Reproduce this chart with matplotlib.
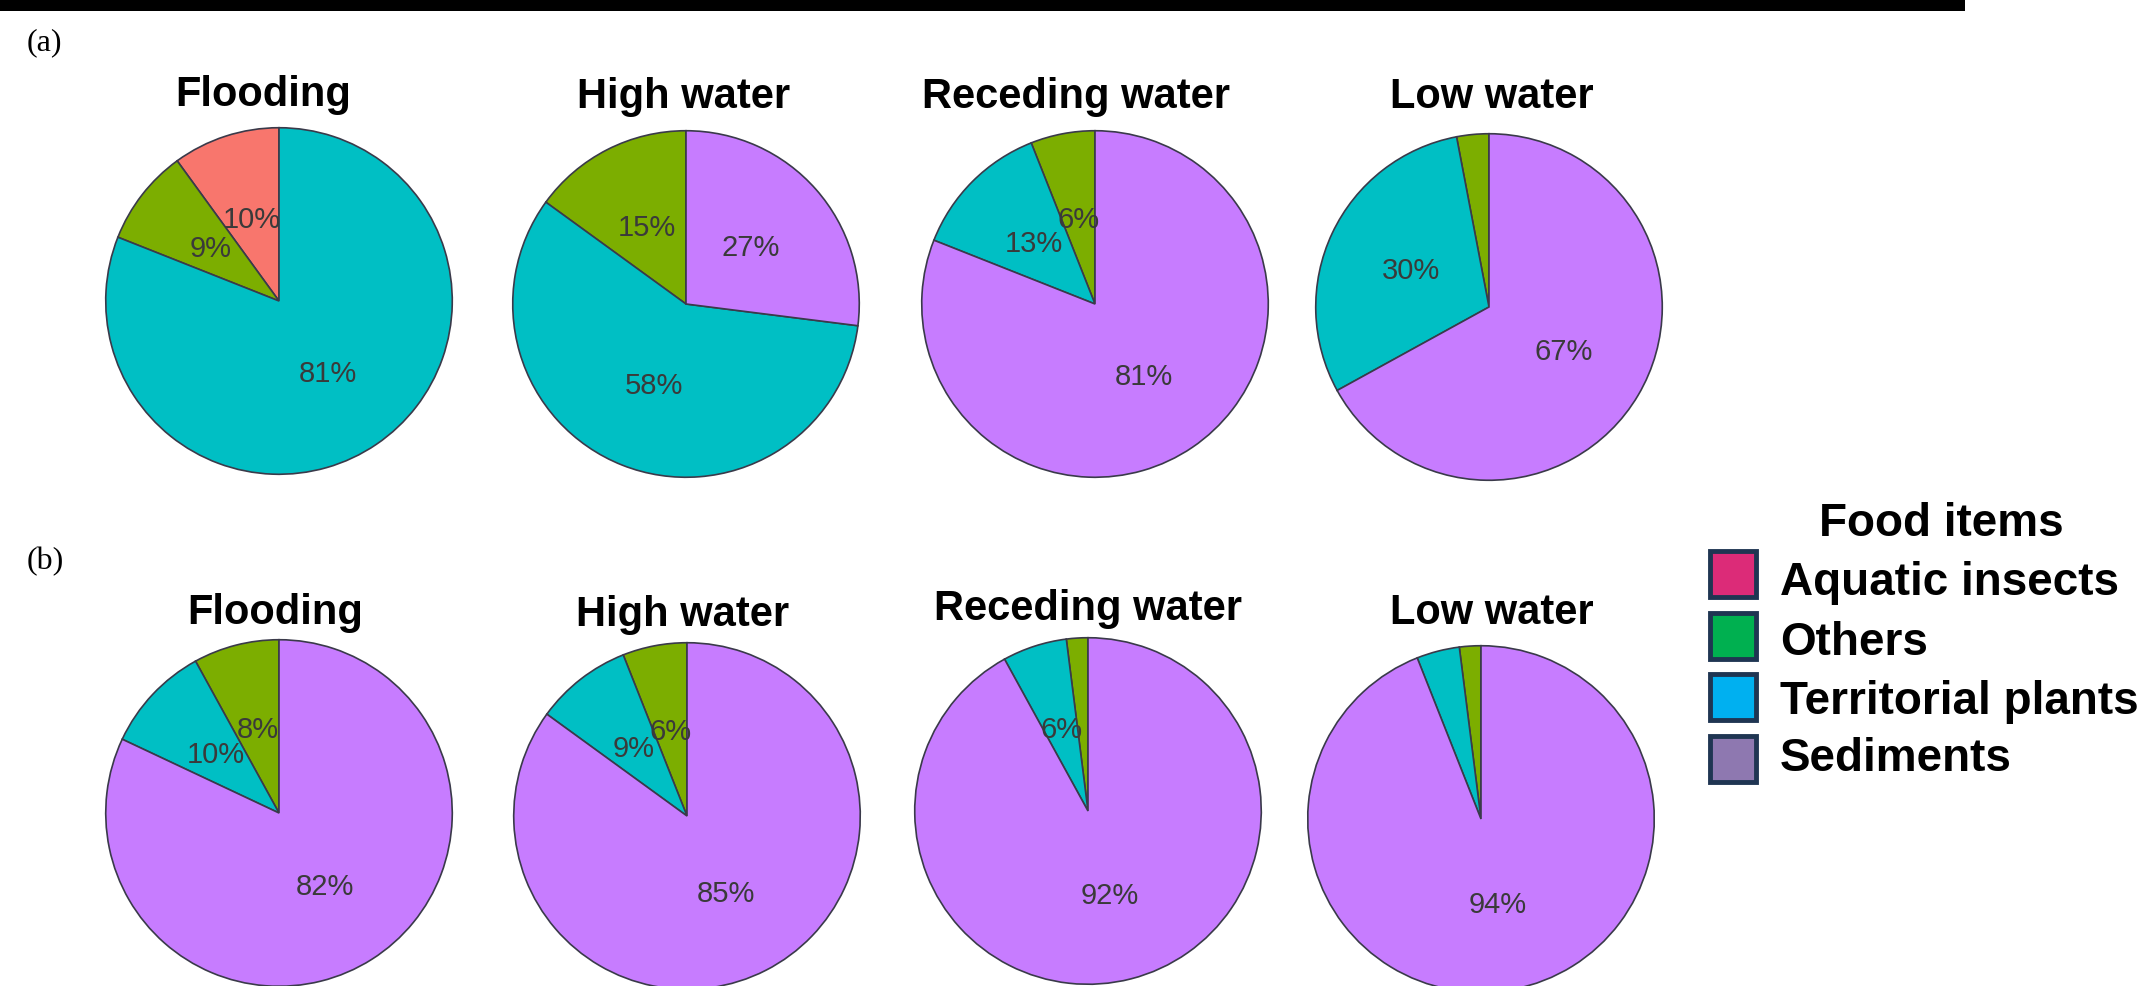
import matplotlib
matplotlib.use("Agg")
import matplotlib.pyplot as plt
from matplotlib.patches import Rectangle

W, H = 2154, 987
DPI = 100

categories = ["Aquatic insects", "Others", "Territorial plants", "Sediments"]
seasons = ["Flooding", "High water", "Receding water", "Low water"]

# shares (%) in order: aquatic insects, others, territorial plants, sediments
panel_a = [
    [10, 9, 81, 0],
    [0, 15, 58, 27],
    [0, 6, 13, 81],
    [0, 3, 30, 67],
]
panel_b = [
    [0, 8, 10, 82],
    [0, 6, 9, 85],
    [0, 2, 6, 92],
    [0, 2, 4, 94],
]

pie_colors = ["#F8766D", "#7CAE00", "#00BFC4", "#C77CFF"]
legend_colors = ["#DC2B78", "#00B050", "#00B0F0", "#8E78B0"]

fig = plt.figure(figsize=(W / DPI, H / DPI), dpi=DPI)
fig.patch.set_facecolor("white")

def fx(x):
    return x / W

def fy(y):
    return 1 - y / H

# black bar at top
fig.patches.append(Rectangle((0, fy(12)), fx(1965), 12 / H, transform=fig.transFigure,
                             facecolor="black", edgecolor="none"))

sans = ["Liberation Sans", "DejaVu Sans"]
serif = ["Liberation Serif", "DejaVu Serif"]

R = 175
centers_a = [(279, 302), (686, 305), (1095, 305), (1489, 308)]
centers_b = [(279, 814), (687, 817), (1088, 812), (1481, 820)]
titles_a = [(263, 95), (684, 97), (1076, 97), (1492, 97)]
titles_b = [(275, 613), (683, 615), (1088, 609), (1492, 613)]

def autopct(p):
    return f"{p:.0f}%" if p >= 5 else ""

def draw_pie(vals, center, title_pos, title):
    cx, cy = center
    ax = fig.add_axes([fx(cx - R), fy(cy + R), 2 * R / W, 2 * R / H])
    v = [x for x in vals if x > 0]
    c = [pie_colors[i] for i, x in enumerate(vals) if x > 0]
    wedges, texts, autotexts = ax.pie(
        v, colors=c, startangle=90, counterclock=True, autopct=autopct,
        pctdistance=0.5, radius=1.0,
        wedgeprops=dict(edgecolor="#3a3a4a", linewidth=1.2),
        textprops=dict(fontsize=21, color="#3a3a3a", family=sans))
    ax.set_xlim(-1.01, 1.01)
    ax.set_ylim(-1.01, 1.01)
    ax.set_aspect("equal")
    ax.axis("off")
    fig.text(fx(title_pos[0]), fy(title_pos[1]), title, ha="center", va="center",
             fontsize=30, fontweight="bold", family=sans)

for vals, c, t, s in zip(panel_a, centers_a, titles_a, seasons):
    draw_pie(vals, c, t, s)
for vals, c, t, s in zip(panel_b, centers_b, titles_b, seasons):
    draw_pie(vals, c, t, s)

fig.text(fx(27), fy(43), "(a)", ha="left", va="center", fontsize=23, family=serif)
fig.text(fx(27), fy(562), "(b)", ha="left", va="center", fontsize=23, family=serif)

# legend
fig.text(fx(1941), fy(524), "Food items", ha="center", va="center",
         fontsize=33, fontweight="bold", family=sans)
sq_y = [575, 637, 698, 760]
txt_y = [583, 643, 702, 759]
for name, col, y, ty in zip(categories, legend_colors, sq_y, txt_y):
    s = 46
    fig.patches.append(Rectangle((fx(1710), fy(y + s / 2)), s / W, s / H,
                                 transform=fig.transFigure, facecolor=col,
                                 edgecolor="#1F3552", linewidth=3.5))
    fig.text(fx(1780), fy(ty), name, ha="left", va="center",
             fontsize=33, fontweight="bold", family=sans)

fig.savefig("out.png", dpi=DPI, facecolor="white")
